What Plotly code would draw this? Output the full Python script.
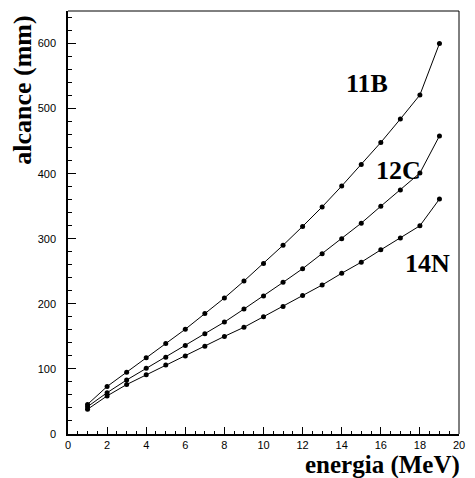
import plotly.graph_objects as go

# Energy (MeV) and range (mm) for each ion
energia = [1, 2, 3, 4, 5, 6, 7, 8, 9, 10, 11, 12, 13, 14, 15, 16, 17, 18, 19]
alcance_11B = [45.5, 73, 95, 117, 139, 161, 185, 209, 235, 262, 290, 319, 349, 381, 414, 448, 484, 521, 600]
alcance_12C = [42, 63.5, 83, 101, 118, 136, 154, 172, 192, 212, 233, 254, 277, 300, 324, 350, 375, 401, 458]
alcance_14N = [38, 58.5, 76, 91, 106, 120, 135, 150, 164, 180, 196, 213, 229, 247, 264, 283, 301, 320, 361]

series_names = ["11B", "12C", "14N"]
# label anchor points in data units (energy, range)
label_x = [15.3, 16.9, 18.4]
label_y = [538, 405, 262]

W, H = 475, 478
L, R, T, B = 68, 9.5, 11, 44

fig = go.Figure()
for ys, name in zip([alcance_11B, alcance_12C, alcance_14N], series_names):
    fig.add_trace(go.Scatter(
        x=energia, y=ys, mode="lines+markers", name=name,
        line=dict(color="black", width=1),
        marker=dict(color="black", size=5),
    ))

serif = "Liberation Serif, Times New Roman, serif"
sans = "Liberation Sans, Arial, Helvetica, sans-serif"

for name, lx, ly in zip(series_names, label_x, label_y):
    fig.add_annotation(x=lx, y=ly, xref="x", yref="y", text="<b>%s</b>" % name,
                       showarrow=False, font=dict(family=serif, size=26, color="black"),
                       xanchor="center", yanchor="middle")

pw = W - L - R
ph = H - T - B

def px(xp):
    return (xp - L) / pw

def py(yp):
    return (H - B - yp) / ph

fig.add_annotation(x=px(21), y=py(90), xref="paper", yref="paper",
                   text="<b>alcance (mm)</b>", textangle=-90, showarrow=False,
                   font=dict(family=serif, size=26, color="black"),
                   xanchor="center", yanchor="middle")
fig.add_annotation(x=px(388), y=py(465), xref="paper", yref="paper",
                   text="<b>energia (MeV)</b>", showarrow=False,
                   font=dict(family=serif, size=25, color="black"),
                   xanchor="center", yanchor="middle")

# thin top and right frame lines
fig.add_shape(type="line", xref="paper", yref="paper", x0=0, x1=1, y0=1, y1=1,
              line=dict(color="black", width=1))
fig.add_shape(type="line", xref="paper", yref="paper", x0=1, x1=1, y0=0, y1=1,
              line=dict(color="black", width=1))

fig.update_xaxes(range=[0, 20], dtick=2, tick0=0, ticks="inside", ticklen=7,
                 tickwidth=1, tickcolor="black", showline=True, linecolor="black",
                 linewidth=1.5, showgrid=False, zeroline=False,
                 tickfont=dict(family=sans, size=11, color="black"),
                 minor=dict(dtick=0.5, tick0=0, ticks="inside", ticklen=3.5,
                            tickcolor="black", showgrid=False))
fig.update_yaxes(range=[0, 650], dtick=100, tick0=0, ticks="inside", ticklen=8,
                 tickwidth=1, tickcolor="black", showline=True, linecolor="black",
                 linewidth=1.5, showgrid=False, zeroline=False,
                 ticklabelstandoff=8,
                 tickfont=dict(family=sans, size=11, color="black"),
                 minor=dict(dtick=20, tick0=0, ticks="inside", ticklen=4,
                            tickcolor="black", showgrid=False))

fig.update_layout(width=W, height=H, margin=dict(l=L, r=R, t=T, b=B),
                  paper_bgcolor="white", plot_bgcolor="white", showlegend=False)

fig.write_html("out.html")
